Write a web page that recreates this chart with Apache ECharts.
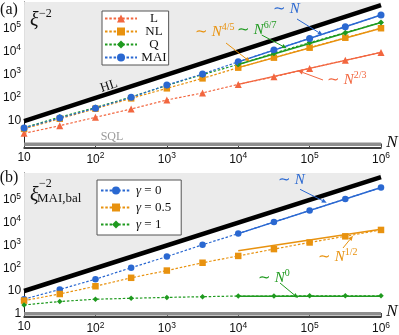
<!DOCTYPE html>
<html>
<head>
<meta charset="utf-8">
<script src="https://cdn.jsdelivr.net/npm/echarts@6/dist/echarts.min.js"></script>
<style>
html,body{margin:0;padding:0;background:#fff;}
#main{width:399px;height:335px;}
</style>
</head>
<body>
<div id="main"></div>
<script>
// N values (half decades)
var N = [10, 31.62, 100, 316.2, 1000, 3162, 10000, 31623, 100000, 316228, 1000000];
var fitN = [10000, 1000000];
var hlN = [10, 1000000];
var hlVal = [10, 1000000];
var sqlVal = [1, 1];

// panel (a)
var valL   = [2.95, 6.3, 14.5, 33, 81, 162, 380, 810, 1860, 4170, 9100];
var valNL  = [4.6, 12.6, 34, 95, 257, 690, 2000, 5400, 14500, 39000, 100000];
var valQ   = [5.2, 14.8, 38, 110, 340, 1000, 2750, 8300, 24000, 64500, 178000];
var valMAI = [5.0, 13.5, 36, 105, 355, 1070, 3550, 11500, 36300, 115000, 372000];
var fitL   = [380, 9100];
var fitNL  = [2000, 100000];
var fitQ   = [2750, 178000];
var fitMAI = [3550, 372000];

// panel (b)
var valG0  = [4.4, 11.7, 33, 105, 324, 1070, 3310, 10700, 33900, 110000, 347000];
var valG05 = [3.8, 7.4, 16.2, 38, 79, 174, 347, 692, 1350, 2510, 4790];
var valG1  = [2.45, 3.47, 4.37, 4.79, 5.25, 5.62, 6.03, 6.03, 6.17, 6.17, 6.17];
var fitG0  = [3310, 347000];
var fitG05 = [590, 5100];
var fitG1  = [5.9, 5.9];

var cRed = '#f2663f', cOrange = '#e8920f', cGreen = '#1f9a1f', cBlue = '#2a68d1';
var serif = 'Liberation Serif';
var sans = 'Liberation Sans';

function pairs(xs, ys) {
	var out = [];
	for (var i = 0; i < xs.length; i++) out.push([xs[i], ys[i]]);
	return out;
}

function powLabel(v, hide) {
	var lg = Math.log10(v);
	var e = Math.round(lg);
	if (Math.abs(lg - e) > 1e-6) return '';
	if (hide.indexOf(e) >= 0) return '';
	if (e === 0) return '1';
	if (e === 1) return '10';
	return '10{s|' + e + '}';
}

var axLabel = {
	color: '#111', fontFamily: sans, fontSize: 12,
	rich: { s: { fontSize: 8.5, fontFamily: sans, color: '#111', padding: [0, 0, 7, 0] } }
};

function xAx(gi) {
	return {
		type: 'log', gridIndex: gi, min: 10, max: 1000000, logBase: 10,
		axisLine: { show: true, lineStyle: { color: '#000', width: 1.5 } },
		axisTick: { show: true, inside: true, length: 4, lineStyle: { color: '#444' } },
		splitLine: { show: false },
		minorTick: { show: false },
		axisLabel: Object.assign({ margin: 4, formatter: function (v) { return powLabel(v, []); } }, axLabel)
	};
}
function yAx(gi, mx, hide) {
	return {
		type: 'log', gridIndex: gi, min: 0.724, max: mx, logBase: 10, splitNumber: 10,
		axisLine: { show: true, onZero: false, lineStyle: { color: '#222', width: 1 } },
		axisTick: { show: true, inside: true, length: 4, lineStyle: { color: '#444' } },
		splitLine: { show: false },
		axisLabel: Object.assign({ margin: 3, formatter: function (v) { return powLabel(v, hide); } }, axLabel)
	};
}

function dataSeries(name, gi, vals, color, symbol, size) {
	return {
		name: name, type: 'line', xAxisIndex: gi, yAxisIndex: gi,
		data: pairs(N, vals), symbol: symbol, symbolSize: size, showSymbol: true,
		clip: false, z: 5,
		itemStyle: { color: color },
		lineStyle: { color: color, width: 1.2, type: [2.5, 1.8] }
	};
}
function fitSeries(gi, vals, color) {
	return {
		type: 'line', xAxisIndex: gi, yAxisIndex: gi, data: pairs(fitN, vals),
		symbol: 'none', z: 6, silent: true,
		lineStyle: { color: color, width: 1.5 }
	};
}
function hlSeries(gi) {
	return {
		type: 'line', xAxisIndex: gi, yAxisIndex: gi, data: pairs(hlN, hlVal),
		symbol: 'none', z: 1, silent: true,
		lineStyle: { color: '#000', width: 4.5 },
		areaStyle: { origin: 'end', color: '#ebebeb', opacity: 1 }
	};
}
function sqlSeries(gi) {
	return {
		type: 'line', xAxisIndex: gi, yAxisIndex: gi, data: pairs(hlN, sqlVal),
		symbol: 'none', z: 2, silent: true,
		lineStyle: { color: '#8e8e8e', width: 3.5 }
	};
}

function arrow(x1, y1, x2, y2, color) {
	var a = Math.atan2(y2 - y1, x2 - x1), h = 5, w = 2.2;
	var bx = x2 - h * Math.cos(a), by = y2 - h * Math.sin(a);
	return [
		{ type: 'line', z: 100, shape: { x1: x1, y1: y1, x2: bx, y2: by }, style: { stroke: color, lineWidth: 1 } },
		{ type: 'polygon', z: 100, shape: { points: [[x2, y2], [bx - w * Math.sin(a), by + w * Math.cos(a)], [bx + w * Math.sin(a), by - w * Math.cos(a)]] }, style: { fill: color } }
	];
}
function mathText(x, y, sup, color) {
	return {
		type: 'text', z: 100, left: x, top: y - 11,
		style: {
			text: '{t|∼ }{n|N}' + (sup ? '{s|' + sup + '}' : ''),
			fill: color,
			rich: {
				t: { fontFamily: serif, fontSize: 15, fill: color, color: color },
				n: { fontFamily: serif, fontStyle: 'italic', fontSize: 15, fill: color, color: color },
				s: { fontFamily: serif, fontSize: 10, fill: color, color: color, padding: [0, 0, 10, 0] }
			}
		}
	};
}
function plainText(x, y, txt, size, color, extra) {
	return Object.assign({
		type: 'text', z: 100, x: x, y: y,
		style: { text: txt, fontFamily: serif, fontSize: size, fill: color, align: 'center', verticalAlign: 'middle' }
	}, extra || {});
}

var graphics = [];
graphics.push(plainText(9, 10, '(a)', 16, '#111'));
graphics.push(plainText(9, 178, '(b)', 16, '#111'));
graphics.push({ type: 'text', z: 100, x: 30, y: 21, style: { text: 'ξ', fontFamily: serif, fontStyle: 'italic', fontSize: 20, fill: '#111', verticalAlign: 'middle' } });
graphics.push({ type: 'text', z: 100, x: 39, y: 14, style: { text: '−2', fontFamily: serif, fontSize: 12, fill: '#111', verticalAlign: 'middle' } });
graphics.push({ type: 'text', z: 100, x: 30, y: 196, style: { text: 'ξ', fontFamily: serif, fontStyle: 'italic', fontSize: 20, fill: '#111', verticalAlign: 'middle' } });
graphics.push({ type: 'text', z: 100, x: 39, y: 184, style: { text: '−2', fontFamily: serif, fontSize: 12, fill: '#111', verticalAlign: 'middle' } });
graphics.push({ type: 'text', z: 100, x: 37, y: 199, style: { text: 'MAI,bal', fontFamily: serif, fontSize: 13, fill: '#111', verticalAlign: 'middle' } });
graphics.push(plainText(109, 86, 'HL', 13, '#111', { rotation: 0.314 }));
graphics.push(plainText(112, 137, 'SQL', 12, '#999'));
graphics.push({ type: 'text', z: 100, x: 392, y: 143, style: { text: 'N', fontFamily: serif, fontStyle: 'italic', fontSize: 17, fill: '#111', align: 'center', verticalAlign: 'middle' } });
graphics.push({ type: 'text', z: 100, x: 392, y: 312, style: { text: 'N', fontFamily: serif, fontStyle: 'italic', fontSize: 17, fill: '#111', align: 'center', verticalAlign: 'middle' } });

// annotations (a)
graphics.push(mathText(273, 13, '', cBlue));
graphics = graphics.concat(arrow(297, 19, 322.7, 35, cBlue));
graphics.push(mathText(237, 31, '6/7', cGreen));
graphics = graphics.concat(arrow(261.7, 35, 286.7, 48.3, cGreen));
graphics.push(mathText(195, 33, '4/5', cOrange));
graphics = graphics.concat(arrow(226, 43, 250, 61.7, cOrange));
graphics.push(mathText(327, 81, '2/3', cRed));
graphics = graphics.concat(arrow(323, 80, 298, 70.7, cRed));
// annotations (b)
graphics.push(mathText(278, 184, '', cBlue));
graphics = graphics.concat(arrow(300, 189.3, 326.7, 202.7, cBlue));
graphics.push(mathText(318, 258, '1/2', cOrange));
graphics = graphics.concat(arrow(343, 248, 353, 235.7, cOrange));
graphics.push(mathText(258, 279, '0', cGreen));
graphics = graphics.concat(arrow(280, 283, 298, 298, cGreen));

var option = {
	animation: false,
	backgroundColor: '#fff',
	grid: [
		{ left: 24, right: 18, top: 2, bottom: 187.5 },
		{ left: 24, right: 18, top: 173, bottom: 16 }
	],
	xAxis: [xAx(0), xAx(1)],
	yAxis: [yAx(0, 1350000, [0, 6]), yAx(1, 1510000, [6])],
	legend: [
		{
			data: ['L', 'NL', 'Q', 'MAI'], orient: 'vertical', left: 102, top: 11,
			padding: [1, 2, 1, 2], itemWidth: 32, itemHeight: 10, itemGap: 0,
			backgroundColor: '#fff', borderColor: '#555', borderWidth: 1,
			formatter: function (n) { return '{c|' + n + '}'; },
			textStyle: { fontFamily: serif, fontSize: 13, color: '#111', lineHeight: 10,
				rich: { c: { width: 24, align: 'center', fontFamily: serif, fontSize: 13, lineHeight: 10 } } }
		},
		{
			data: ['γ = 0', 'γ = 0.5', 'γ = 1'], orient: 'vertical', left: 97, top: 180,
			padding: [4, 10, 4, 3], itemWidth: 30, itemHeight: 10, itemGap: 4,
			backgroundColor: '#fff', borderColor: '#555', borderWidth: 1,
			formatter: function (n) { return '{g|γ}{r|' + n.substring(1) + '}'; },
			textStyle: { fontFamily: serif, fontSize: 13, color: '#111', lineHeight: 10,
				rich: { g: { fontFamily: serif, fontStyle: 'italic', fontSize: 13, lineHeight: 10 },
					r: { fontFamily: serif, fontSize: 13, lineHeight: 10 } } }
		}
	],
	graphic: graphics,
	series: [
		hlSeries(0), sqlSeries(0),
		dataSeries('L', 0, valL, cRed, 'triangle', 7),
		dataSeries('NL', 0, valNL, cOrange, 'rect', 6.5),
		dataSeries('Q', 0, valQ, cGreen, 'diamond', 6),
		dataSeries('MAI', 0, valMAI, cBlue, 'circle', 7),
		fitSeries(0, fitL, cRed), fitSeries(0, fitNL, cOrange),
		fitSeries(0, fitQ, cGreen), fitSeries(0, fitMAI, cBlue),

		hlSeries(1), sqlSeries(1),
		dataSeries('γ = 0', 1, valG0, cBlue, 'circle', 6.5),
		dataSeries('γ = 0.5', 1, valG05, cOrange, 'rect', 6.5),
		dataSeries('γ = 1', 1, valG1, cGreen, 'diamond', 5.5),
		fitSeries(1, fitG0, cBlue), fitSeries(1, fitG05, cOrange), fitSeries(1, fitG1, cGreen)
	]
};

var myChart = echarts.init(document.getElementById('main'));
myChart.setOption(option);
</script>
</body>
</html>
